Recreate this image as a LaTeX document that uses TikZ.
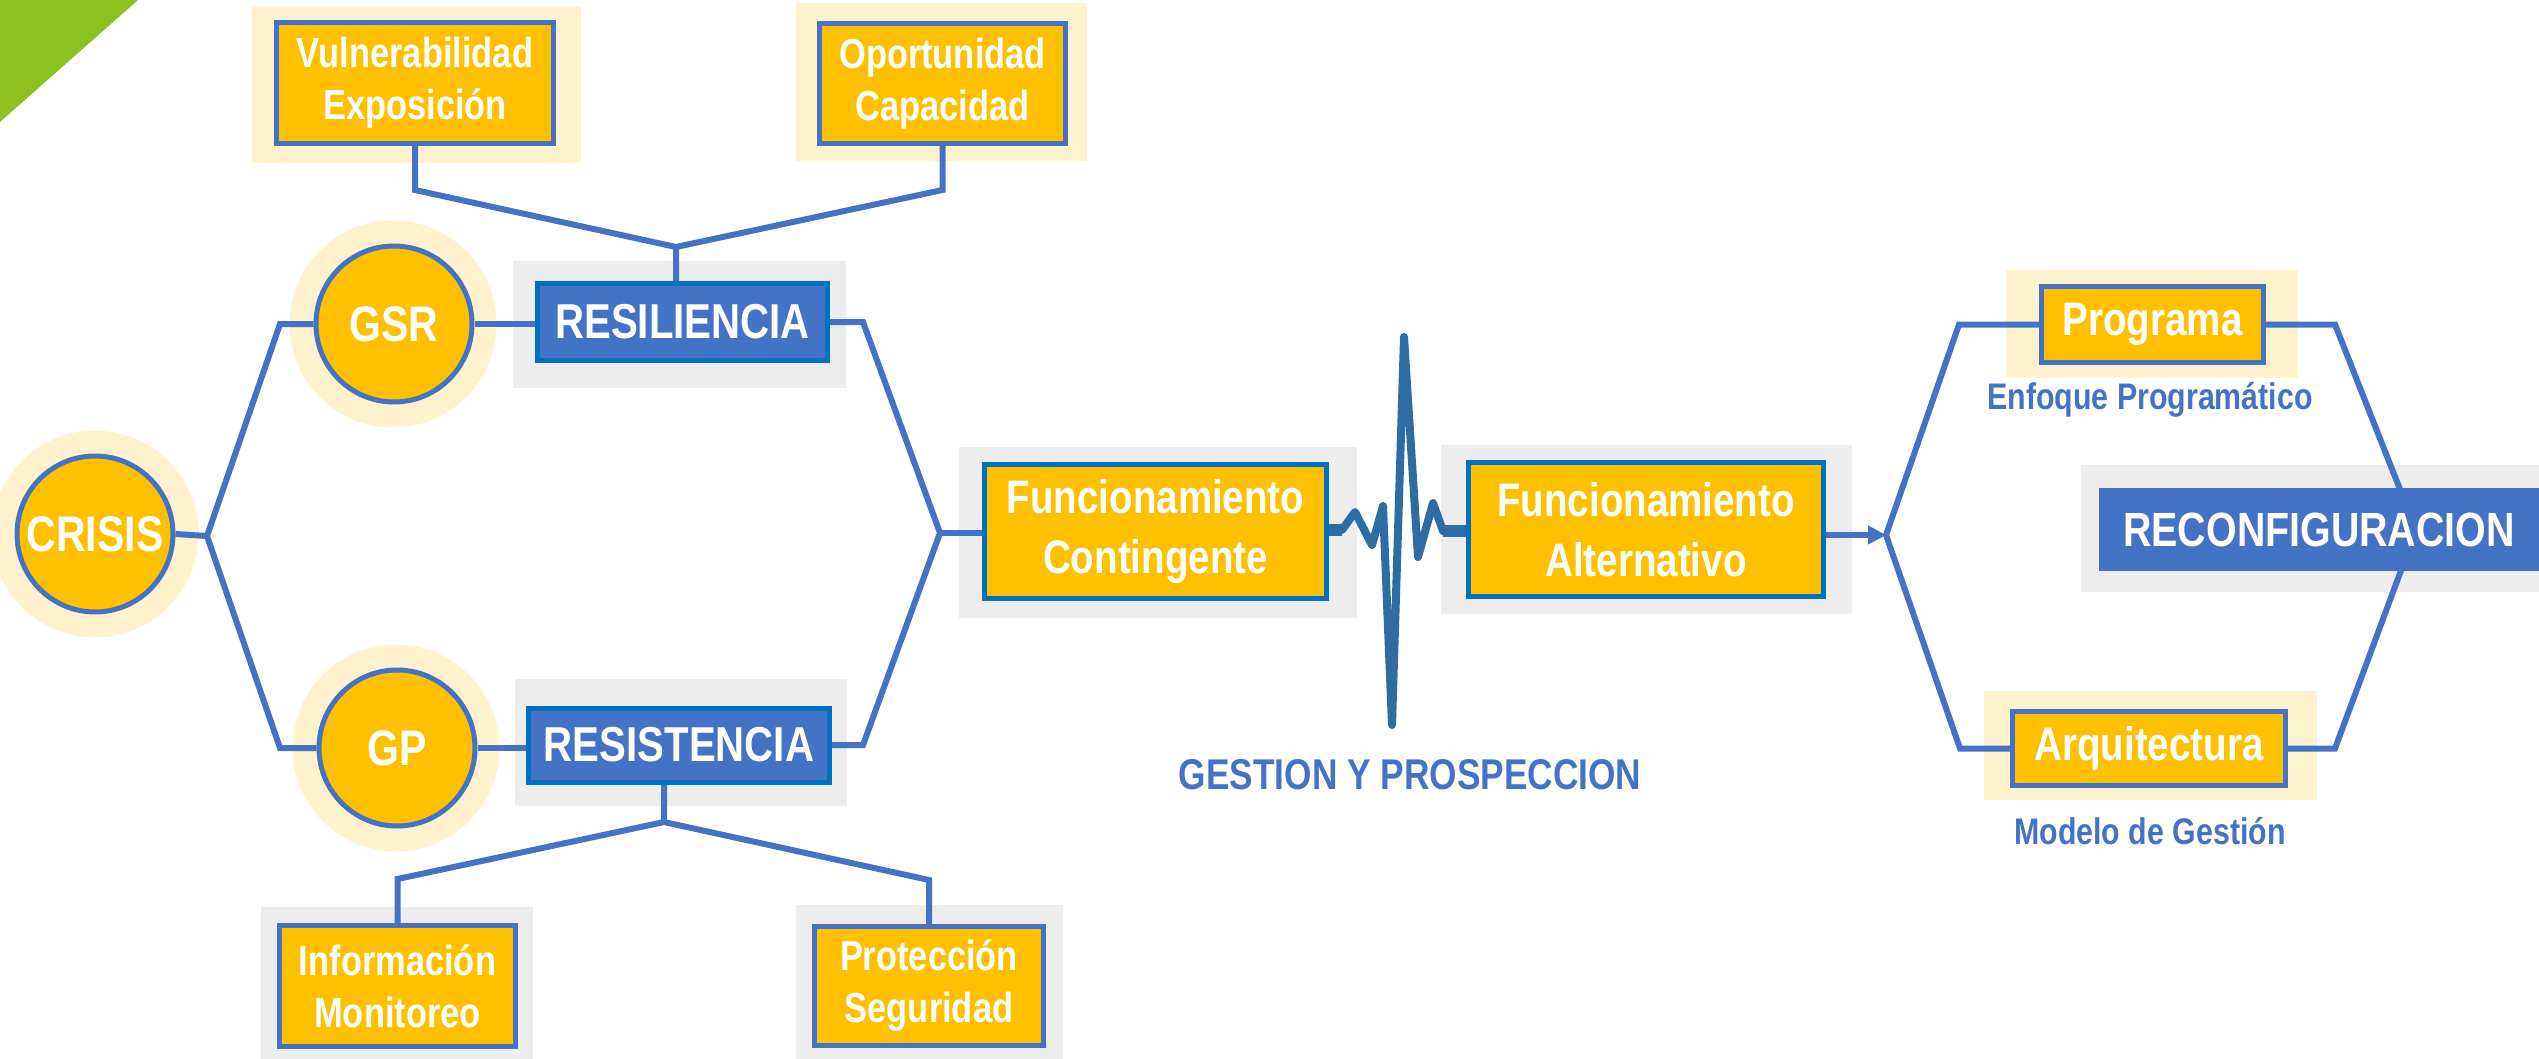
\documentclass[tikz,border=0pt]{standalone}
\usepackage{fontspec}
\setmainfont{Liberation Sans}[FakeStretch=0.82]
\usetikzlibrary{arrows.meta}
\definecolor{ylw}{HTML}{FFC000}
\definecolor{lblue}{HTML}{4472C4}
\definecolor{dblue}{HTML}{0070C0}
\definecolor{cream}{HTML}{FFF2CC}
\definecolor{greyf}{HTML}{EDEDED}
\definecolor{hbeat}{HTML}{2E6DA4}
\definecolor{leaf}{HTML}{8CC21F}
\newcommand\myfs[2]{\fontsize{#1}{#2}\selectfont}
\pgfdeclarelayer{bg}
\pgfdeclarelayer{mid}
\pgfsetlayers{bg,mid,main}
\begin{document}
\begin{tikzpicture}[x=1pt,y=-1pt,
  frame/.style={inner sep=0pt, draw=none},
  creamf/.style={frame, fill=cream},
  greyfr/.style={frame, fill=greyf},
  halo/.style={circle, frame, fill=cream, minimum size=207pt},
  ybox/.style={draw=lblue, line width=5pt, fill=ylw, inner sep=0pt, align=center, text=white, font=\bfseries\myfs{42}{52}},
  fbox/.style={draw=dblue, line width=5pt, fill=ylw, inner sep=0pt, align=center, text=white, font=\bfseries\myfs{47}{60}},
  bbox/.style={draw=dblue, line width=5pt, fill=lblue, inner sep=0pt, align=center, text=white, font=\bfseries\myfs{49}{55}},
  rbox/.style={draw=none, fill=lblue, inner sep=0pt, align=center, text=white, font=\bfseries\myfs{48}{55}},
  circ/.style={circle, draw=lblue, line width=5pt, fill=ylw, minimum size=156pt, inner sep=0pt, text=white, font=\bfseries\myfs{50}{55}},
  lbl/.style={inner sep=0pt, text=lblue, font=\bfseries\myfs{37}{44}},
  conn/.style={draw=lblue, line width=6pt},
  hb/.style={draw=hbeat, line width=8pt, line join=round, line cap=round}
]
\useasboundingbox (0,0) rectangle (2539,1059);

\begin{pgfonlayer}{bg}
\fill[leaf] (0,0) -- (138,0) -- (0,122) -- cycle;
\node[creamf, minimum width=329pt, minimum height=157pt] (vulF) at (416.5,84.5) {};
\node[creamf, minimum width=291pt, minimum height=158pt] (opoF) at (941.5,82) {};
\node[halo] (crisisH) at (95,534) {};
\node[halo] (gsrH) at (393,324) {};
\node[halo] (gpH) at (396,748) {};
\node[greyfr, minimum width=333pt, minimum height=127pt] (resilF) at (679.5,324.5) {};
\node[greyfr, minimum width=332pt, minimum height=127pt] (resistF) at (681,742.5) {};
\node[greyfr, minimum width=272pt, minimum height=152pt] (infF) at (397,983) {};
\node[greyfr, minimum width=267pt, minimum height=154pt] (proF) at (929.5,982) {};
\node[greyfr, minimum width=398pt, minimum height=171pt] (fcF) at (1158,532.5) {};
\node[greyfr, minimum width=411pt, minimum height=169pt] (faF) at (1646.5,529.5) {};
\node[creamf, minimum width=292pt, minimum height=108pt] (progF) at (2152,324) {};
\node[creamf, minimum width=333pt, minimum height=109pt] (arqF) at (2150.5,745.5) {};
\node[greyfr, minimum width=458pt, minimum height=127pt] (recF) at (2310,528.5) {};
\end{pgfonlayer}

% main nodes
\node[ybox, minimum width=277pt, minimum height=121pt] (vul) at (415,83) {\raisebox{-4pt}{Vulnerabilidad}\\\raisebox{-4pt}{Exposición}};
\node[ybox, minimum width=246pt, minimum height=120pt] (opo) at (942.5,83.5) {\raisebox{-4pt}{Oportunidad}\\\raisebox{-4pt}{Capacidad}};
\node[circ] (crisis) at (95,534) {CRISIS};
\node[circ] (gsr) at (394,324) {GSR};
\node[circ] (gp) at (397,748) {GP};
\node[bbox, minimum width=290pt, minimum height=77pt] (resil) at (682.5,322) {RESILIENCIA};
\node[bbox, minimum width=301pt, minimum height=74pt] (resist) at (679,745) {RESISTENCIA};
\node[ybox, minimum width=236pt, minimum height=121pt] (inf) at (397.5,986) {Información\\Monitoreo};
\node[ybox, minimum width=229pt, minimum height=119pt] (pro) at (929,986) {Protección\\Seguridad};
\node[fbox, minimum width=342pt, minimum height=134pt] (fc) at (1155.5,531.5) {Funcionamiento\\Contingente};
\node[fbox, minimum width=355pt, minimum height=134pt] (fa) at (1646,529.5) {Funcionamiento\\Alternativo};
\node[ybox, font=\bfseries\myfs{47}{55}, minimum width=222pt, minimum height=76pt] (prog) at (2152.5,324.5) {Programa};
\node[ybox, font=\bfseries\myfs{47}{55}, minimum width=273pt, minimum height=74pt] (arq) at (2149,748.5) {Arquitectura};
\node[rbox, minimum width=440pt, minimum height=83pt] (rec) at (2319,529.5) {RECONFIGURACION};
\node[lbl] (enf) at (2150,400) {Enfoque Programático};
\node[lbl] (mod) at (2150,831) {Modelo de Gestión};
\node[lbl, font=\bfseries\myfs{43}{50}] (gyp) at (1410,775) {GESTION Y PROSPECCION};

% junctions
\coordinate (j1) at (676,247);
\coordinate (j2) at (664,822);
\coordinate (jc) at (207,536);
\coordinate (jf) at (940,533);
\coordinate (jr) at (1886,535);
\coordinate (jk) at (2416,530);

\begin{pgfonlayer}{mid}
\draw[conn] (vul.south) -- (vul.south |- 0,190) -- (j1);
\draw[conn] (opo.south) -- (opo.south |- 0,190) -- (j1) -- (resil.north -| j1);
\draw[conn] (resist.south -| j2) -- (j2) -- (inf.north |- 0,879) -- (inf.north);
\draw[conn] (j2) -- (pro.north |- 0,880) -- (pro.north);
\draw[conn] (crisis.east) -- (jc);
\draw[conn] (gsr.west) -- (280,324) -- (jc) -- (280,748) -- (gp.west);
\draw[conn] (gsr.east) -- (resil.west |- gsr.east);
\draw[conn] (gp.east) -- (resist.west |- gp.east);
\draw[conn] (resil.east) -- (863,322) -- (jf) -- (863,745) -- (resist.east);
\draw[conn] (jf) -- (fc.west |- jf);
\draw[conn, -{Triangle[length=18pt,width=18pt]}] (fa.east |- jr) -- (jr);
\draw[conn] (prog.west) -- (1959,324.5) -- (jr) -- (1960,748.5) -- (arq.west);
\draw[conn] (prog.east) -- (2335,324.5) -- (jk) -- (2335,748.5) -- (arq.east);
% heartbeat
\draw[hb] (fc.east |- 0,530) -- (1342,530) -- (1355,512) -- (1372,545) -- (1383,506) -- (1392,725) -- (1404,337) -- (1418,557) -- (1433,503) -- (1443,531) -- (fa.west |- 0,531);
\draw[hb, line width=12pt, line cap=butt] (fc.east |- 0,530) -- (1342,530);
\draw[hb, line width=12pt, line cap=butt] (1443,531) -- (fa.west |- 0,531);
\end{pgfonlayer}
\end{tikzpicture}
\end{document}
